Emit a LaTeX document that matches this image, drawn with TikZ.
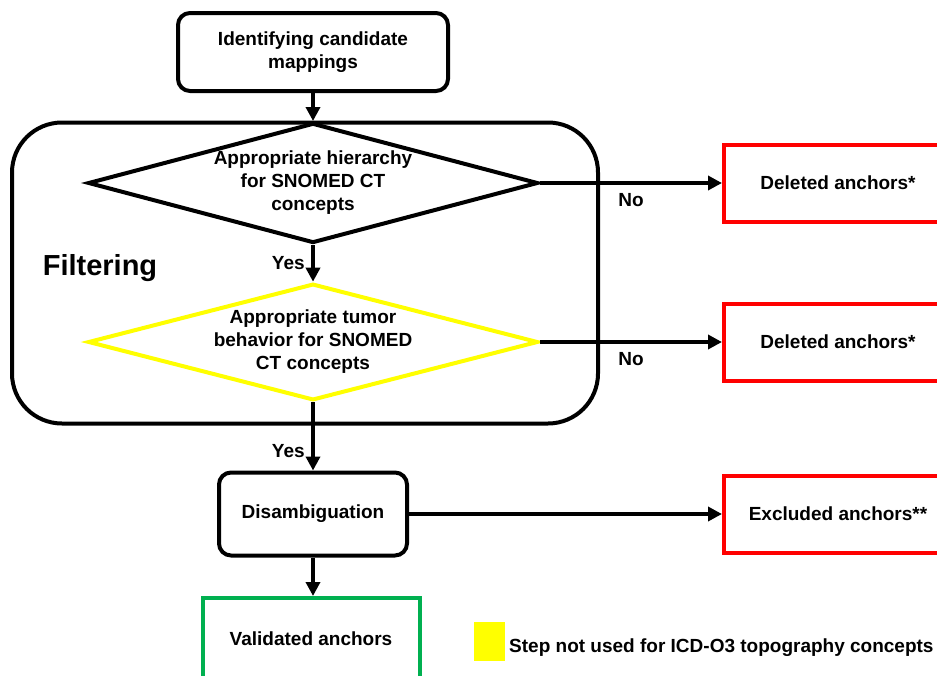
\documentclass[tikz,border=0pt]{standalone}
\usepackage{fontspec}
\setmainfont{Liberation Sans}
\usepackage{xcolor}
\usetikzlibrary{shapes.geometric,arrows.meta,positioning}
\definecolor{boxred}{RGB}{255,0,0}
\definecolor{boxgreen}{RGB}{0,176,80}
\definecolor{stepyellow}{RGB}{255,255,0}

\begin{document}
\begin{tikzpicture}[x=1pt,y=-1pt,
                    every node/.style={font=\bfseries\fontsize{19}{23}\selectfont,align=center},
                    stepbox/.style={rectangle,rounded corners=12pt,draw,line width=4pt,inner sep=0pt},
                    check node/.style={diamond,aspect=3.75,draw,line width=4pt,inner sep=0pt},
                    result box/.style={rectangle,draw=boxred,line width=4pt,inner sep=0pt,
                                       minimum width=228pt,minimum height=77pt},
                    flow/.style={line width=4pt,-{Triangle[length=14pt,width=14pt]}}]

\useasboundingbox (0,0) rectangle (937,675);
\clip (0,0) rectangle (937,675);

%DRAWING Filtering frame
 \node[rectangle,draw,line width=4pt,rounded corners=50pt,minimum width=586pt,minimum height=301pt] (FilterFrame) at (305,273) {};
 \node[font=\bfseries\fontsize{29}{32}\selectfont] (FilterLabel) at (100,268) {Filtering};

%Steps of the mapping
 \node[stepbox,minimum width=270pt,minimum height=78pt] (Candidates) at (313,52) {Identifying candidate\\mappings};
 \node[check node,minimum width=450pt,minimum height=120pt] (Hierarchy) at (313,183) {Appropriate hierarchy\\for SNOMED CT\\concepts};
 \node[check node,draw=stepyellow,minimum width=450pt,minimum height=110pt] (Behavior) at (313,342) {Appropriate tumor\\behavior for SNOMED\\CT concepts};
 \node[stepbox,minimum width=188pt,minimum height=83pt] (Disambig) at (313,514) {Disambiguation};

%Outcomes
 \node[result box] (Deleted1) at (838,183) {Deleted anchors*};
 \node[result box] (Deleted2) at (838,342) {Deleted anchors*};
 \node[result box] (Excluded) at (838,514) {Excluded anchors**};
 \node[rectangle,draw=boxgreen,line width=4pt,minimum width=217pt,minimum height=82pt] (Validated) at (311,639) {Validated anchors};

%Connectors
 \draw[flow] (Candidates) -- (Hierarchy.north);
 \draw[flow] (Hierarchy.south) -- (Behavior.north) node[midway,left=3pt] {Yes};
 \draw[flow] (Behavior.south) -- (Disambig) node[pos=0.72,left=3pt] {Yes};
 \draw[flow] (Disambig.south) -- (Disambig.south |- Validated.north);
 \draw[flow] (Hierarchy.east) -- (Deleted1) node[midway,below=5pt] {No};
 \draw[flow] (Behavior.east) -- (Deleted2) node[midway,below=5pt] {No};
 \draw[flow] (Disambig) -- (Excluded);

%Legend
 \node[fill=stepyellow,minimum width=31pt,minimum height=39pt,inner sep=0pt] (LegendMark) at (489,641) {};
 \node[anchor=west,inner sep=0pt] (LegendText) at (509,648) {Step not used for ICD-O3 topography concepts};

\end{tikzpicture}
\end{document}
